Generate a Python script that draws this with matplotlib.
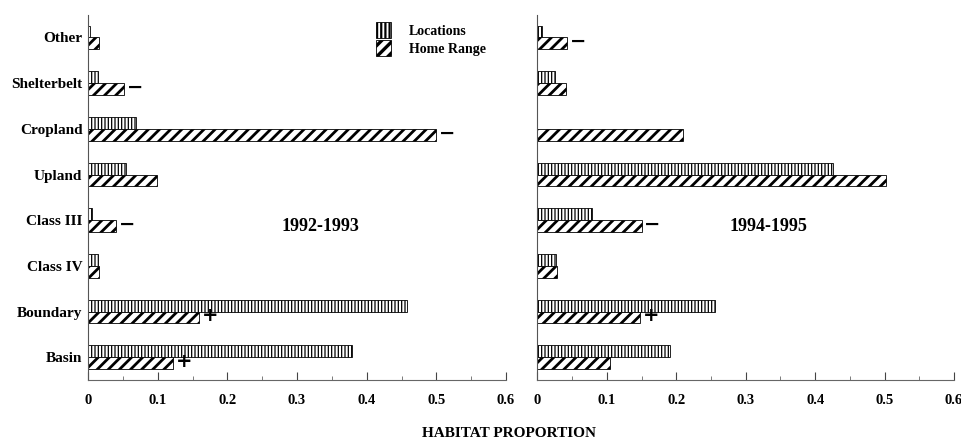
"""
Habitat proportion of locations vs. home range, two study periods.
"""

import numpy as np
import matplotlib
matplotlib.use("Agg")
import matplotlib.pyplot as plt
from matplotlib.patches import Patch
from matplotlib.ticker import MultipleLocator

# ============================================================================
# Data
# ============================================================================
habitats = ["Basin", "Boundary", "Class IV", "Class III",
            "Upland", "Cropland", "Shelterbelt", "Other"]

loc_9293 = [0.379, 0.458, 0.014, 0.006, 0.054, 0.069, 0.014, 0.003]
hr_9293 = [0.122, 0.160, 0.016, 0.040, 0.099, 0.500, 0.052, 0.016]
sign_9293 = ["+", "+", "", "\u2212", "", "\u2212", "\u2212", ""]

loc_9495 = [0.191, 0.256, 0.027, 0.078, 0.426, 0.0, 0.025, 0.007]
hr_9495 = [0.105, 0.148, 0.028, 0.150, 0.502, 0.210, 0.041, 0.043]
sign_9495 = ["", "+", "", "\u2212", "", "", "", "\u2212"]

periods = ["1992-1993", "1994-1995"]
xticks = [0, 0.1, 0.2, 0.3, 0.4, 0.5, 0.6]
xticklabels = ["0", "0.1", "0.2", "0.3", "0.4", "0.5", "0.6"]

plt.rcParams["font.family"] = ["Liberation Serif", "DejaVu Serif"]
plt.rcParams["font.weight"] = "bold"
plt.rcParams["hatch.color"] = "black"

fig = plt.figure(figsize=(9.62, 4.42), dpi=100)
ax1 = fig.add_axes([0.0915, 0.140, 0.4345, 0.827])
ax2 = fig.add_axes([0.5587, 0.140, 0.4330, 0.827])

bar_h = 0.26
y = np.arange(len(habitats))


def set_hatch_lw(artists, lw):
    for a in artists:
        if hasattr(a, "set_hatch_linewidth"):
            a.set_hatch_linewidth(lw)


for ax, loc, hr, signs, period in [(ax1, loc_9293, hr_9293, sign_9293, periods[0]),
                                    (ax2, loc_9495, hr_9495, sign_9495, periods[1])]:
    b1 = ax.barh(y + bar_h / 2, loc, height=bar_h, color="white",
                 edgecolor="black", linewidth=0.6, hatch="|||||")
    set_hatch_lw(b1, 0.9)
    b2 = ax.barh(y - bar_h / 2, hr, height=bar_h, color="white",
                 edgecolor="black", linewidth=0.6, hatch="///")
    set_hatch_lw(b2, 2.0)

    # significance marks next to the home range bars
    for yi, v, s in zip(y, hr, signs):
        if s:
            ax.text(v + 0.004, yi - bar_h / 2 + 0.04, s, fontsize=14,
                    fontweight="bold", va="center", ha="left",
                    family=["DejaVu Sans"])

    ax.text(0.333, 2.87, period, fontsize=13, fontweight="bold",
            ha="center", va="center")

    ax.set_xlim(0, 0.6)
    ax.set_ylim(-0.5, 7.5)
    ax.set_xticks(xticks)
    ax.set_xticklabels(xticklabels, fontsize=10.5, fontweight="bold")
    ax.xaxis.set_minor_locator(MultipleLocator(0.05))
    ax.tick_params(axis="x", which="major", direction="in", length=6,
                   width=0.8, color="#444444", pad=10)
    ax.tick_params(axis="x", which="minor", direction="in", length=3,
                   width=0.6, color="#666666")
    ax.tick_params(axis="y", length=0, pad=4)
    for side in ["top", "right"]:
        ax.spines[side].set_visible(False)
    ax.spines["bottom"].set_color("#666666")
    ax.spines["bottom"].set_linewidth(0.8)
    ax.spines["left"].set_color("#555555")
    ax.spines["left"].set_linewidth(0.8)

ax1.set_yticks(y)
ax1.set_yticklabels(habitats, fontsize=11, fontweight="bold")
ax2.set_yticks([])

# legend
handles = [Patch(facecolor="white", edgecolor="black", linewidth=0.6, hatch="||||"),
           Patch(facecolor="white", edgecolor="black", linewidth=0.6, hatch="///")]
leg = ax1.legend(handles, ["Locations", "Home Range"], loc="upper left",
                 bbox_to_anchor=(0.665, 1.005), frameon=False, fontsize=10,
                 handlelength=1.1, handleheight=1.35, handletextpad=1.3,
                 labelspacing=0.15, borderpad=0.2)
for t in leg.get_texts():
    t.set_fontweight("bold")
set_hatch_lw(leg.get_patches()[1:], 2.4)
set_hatch_lw(leg.get_patches()[:1], 1.6)

fig.text(0.529, 0.020, "HABITAT PROPORTION", ha="center", va="center",
         fontsize=11, fontweight="bold")

fig.savefig("out.png", dpi=100)
